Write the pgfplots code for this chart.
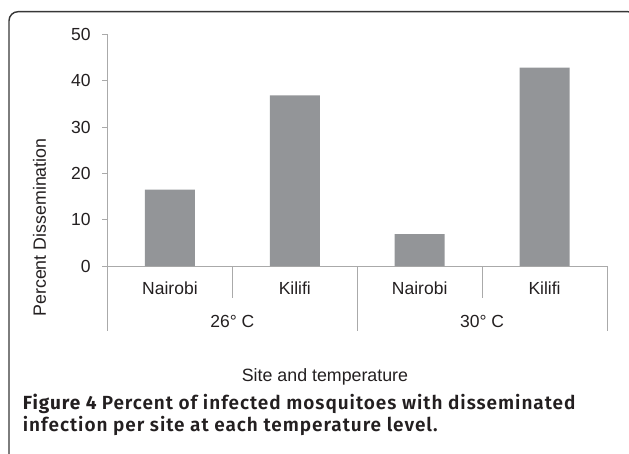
\documentclass[border=0pt]{standalone}
\usepackage{fontspec}
\setmainfont{Liberation Sans}
\newfontfamily\capbold[LetterSpace=5]{Fira Sans Bold}
\newfontfamily\capsemi[LetterSpace=5]{Fira Sans SemiBold}
\usepackage{pgfplots}
\pgfplotsset{compat=1.18}
\definecolor{barg}{RGB}{147,149,152}
\definecolor{axg}{RGB}{170,170,170}
\definecolor{txt}{RGB}{35,31,32}
\definecolor{frm}{RGB}{55,55,55}
\begin{document}
\begin{tikzpicture}[x=1pt,y=1pt]
\useasboundingbox (0,0) rectangle (629,453);
\begin{scope}
\clip (0,0) rectangle (629,453);
\draw[frm, line width=1.4pt, rounded corners=9pt] (9,441.3) rectangle (637,-20);
\end{scope}
\begin{axis}[
  at={(107.5pt,187pt)}, anchor=south west,
  scale only axis, width=499.5pt, height=231.7pt,
  xmin=-0.5, xmax=3.5, ymin=0, ymax=50,
  axis lines=left,
  axis line style={axg, line width=0.9pt, -},
  tick align=outside, major tick length=5pt,
  ytick={0,10,20,30,40,50},
  ytick style={axg, line width=0.9pt},
  xtick={0,1,2,3},
  xticklabels={Nairobi,Kilifi,Nairobi,Kilifi},
  xtick style={draw=none},
  xticklabel style={anchor=base, yshift=-23pt},
  yticklabel style={anchor=east, inner sep=0pt, xshift=-11.8pt},
  tick label style={font=\fontsize{17.5}{20}\selectfont, text=txt},
  /pgf/number format/assume math mode=true,
  ylabel={Percent Dissemination},
  every axis y label/.style={at={(axis description cs:-0.1361,0.1662)}, rotate=90, anchor=center, font=\fontsize{17.8}{20}\selectfont, text=txt},
  xlabel={Site and temperature},
  every axis x label/.style={at={(axis description cs:0.4354,-0.4994)}, anchor=base, font=\fontsize{17.8}{20}\selectfont, text=txt},
  clip=false,
]
\addplot[ybar, bar width=50pt, fill=barg, draw=none] coordinates {(0,16.5) (1,36.8) (2,6.9) (3,42.8)};
\draw[axg, line width=0.9pt] (axis cs:-0.5,0) -- ++(0pt,-65pt);
\draw[axg, line width=0.9pt] (axis cs:1.5,0) -- ++(0pt,-65pt);
\draw[axg, line width=0.9pt] (axis cs:3.5,0) -- ++(0pt,-65pt);
\draw[axg, line width=0.9pt] (axis cs:0.5,0) -- ++(0pt,-32pt);
\draw[axg, line width=0.9pt] (axis cs:2.5,0) -- ++(0pt,-32pt);
\node[anchor=base, yshift=-61.3pt, font=\fontsize{17.5}{20}\selectfont, text=txt] at (axis cs:0.5,0) {26° C};
\node[anchor=base, yshift=-61.3pt, font=\fontsize{17.5}{20}\selectfont, text=txt] at (axis cs:2.5,0) {30° C};
\end{axis}
\node[anchor=base west, inner sep=0pt, text=txt] at (22.7,43.5) {\fontsize{19}{20}\selectfont{\capbold Figure 4} {\capsemi Percent of infected mosquitoes with disseminated}};
\node[anchor=base west, inner sep=0pt, text=txt] at (22.7,21.5) {\fontsize{19}{20}\selectfont\capsemi infection per site at each temperature level.};
\end{tikzpicture}
\end{document}
